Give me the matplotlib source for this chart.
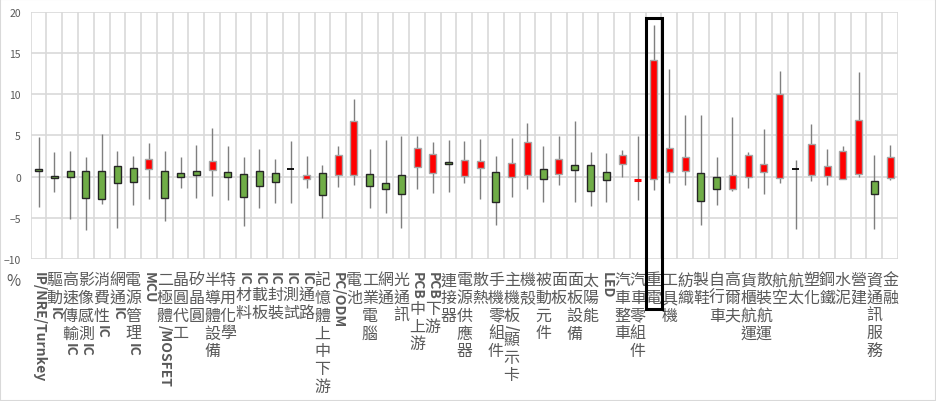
import re
import matplotlib
matplotlib.use('Agg')
import matplotlib.pyplot as plt
from matplotlib.patches import Rectangle
from matplotlib.transforms import blended_transform_factory

plt.rcParams['font.family'] = ['Noto Sans CJK TC', 'DejaVu Sans']

sectors = ['IP/NRE/Turnkey', '驅動IC', '高速傳輸IC', '影像感測IC', '消費性IC', '網通IC',
           '電源管理IC', 'MCU', '二極體/MOSFET', '晶圓代工', '矽晶圓', '半導體設備', '特用化學',
           'IC材料', 'IC載板', 'IC封裝', 'IC測試', 'IC通路', '記憶體上中下游', 'PC/ODM', '電池',
           '工業電腦', '網通', '光通訊', 'PCB中上游', 'PCB下游', '連接器', '電源供應器', '散熱',
           '手機零組件', '主機板/顯示卡', '機殼', '被動元件', '面板', '面板設備', '太陽能', 'LED',
           '汽車整車', '汽車零組件', '重電', '工具機', '紡織', '製鞋', '自行車', '高爾夫',
           '貨櫃航運', '散裝航運', '航空', '航太', '塑化', '鋼鐵', '水泥', '營建', '資通訊服務', '金融']

opens = [0.97, 0.12, 0.65, 0.69, 0.69, 1.29, 1.05, 0.93, 0.65, 0.49, 0.69, 0.85, 0.53,
         0.36, 0.69, 0.49, 0.95, -0.28, 0.44, 0.20, 0.16, 0.32, -0.77, 0.20, 1.21, 0.49,
         1.78, 0.04, 1.05, 0.57, -0.04, 0.16, 0.93, 0.32, 1.42, 1.42, 0.57, 1.54, -0.45,
         -0.24, 0.61, 0.65, 0.40, -0.04, -1.54, -0.08, 0.53, -0.16, 0.93, 0.16, 0.08, -0.24,
         0.32, -0.57, -0.16]
closes = [0.65, -0.20, 0.00, -2.63, -2.71, -0.77, -0.61, 2.14, -2.55, -0.04, 0.20, 1.90, -0.04,
          -2.51, -1.13, -0.61, 0.95, 0.16, -2.22, 2.67, 6.71, -1.13, -1.46, -2.06, 3.48, 2.71,
          1.54, 1.98, 1.86, -3.11, 1.66, 4.17, -0.32, 2.10, 0.77, -1.70, -0.40, 2.63, -0.35,
          14.11, 3.44, 2.35, -2.91, -1.54, 0.20, 2.63, 1.54, 10.07, 0.93, 4.00, 1.25, 3.07,
          6.91, -2.14, 2.35]
highs = [4.81, 2.99, 3.15, 2.43, 5.22, 3.11, 2.50, 4.08, 3.15, 2.35, 3.88, 5.86, 3.76,
         2.43, 3.32, 2.18, 4.37, 2.55, 1.42, 3.76, 9.46, 3.36, 4.49, 4.89, 4.97, 4.21,
         4.49, 4.37, 4.57, 2.50, 4.65, 6.51, 3.68, 4.97, 6.79, 2.99, 2.83, 3.23, 4.97,
         18.36, 13.02, 7.52, 7.52, 2.39, 7.28, 2.99, 5.78, 12.82, 1.98, 6.43, 3.40, 3.76,
         12.74, 2.63, 3.88]
lows = [-3.68, -1.86, -5.14, -6.50, -3.28, -6.19, -3.44, -2.67, -5.38, -1.42, -2.55, -2.30, -2.79,
        -6.03, -3.76, -3.15, -3.15, -1.33, -4.97, -1.29, -1.05, -3.84, -4.45, -6.19, -1.50, -1.98,
        -1.90, -0.81, -2.67, -5.90, -2.51, -1.46, -3.11, -0.97, -3.11, -3.60, -3.07, -0.08, -2.79,
        -1.58, -0.77, -1.05, -5.90, -3.44, -1.74, -1.42, -2.14, -0.77, -6.31, -0.57, -1.01, -0.24,
        -0.08, -6.39, -0.40]

highlight = '重電'

GRAY = '#595959'
GRID = '#d9d9d9'

fig = plt.figure(figsize=(9.36, 4.02), dpi=100)
ax = fig.add_axes([30.7 / 936, 1 - 260 / 402, (898 - 30.7) / 936, (260 - 12.7) / 402])

n = len(sectors)
ax.set_xlim(-0.5, n - 0.5)
ax.set_ylim(-10, 20)
ax.set_yticks(range(-10, 21, 5))
ax.set_xticks([])
for s in ax.spines.values():
    s.set_visible(False)
ax.tick_params(axis='y', length=0, pad=7, labelsize=7.5, labelcolor=GRAY)
for y in range(-10, 21, 5):
    ax.axhline(y, color=GRID, lw=1.2, zorder=0)
for b in range(n + 1):
    ax.axvline(b - 0.5, color=GRID, lw=1.2, zorder=0)

w = 0.44
for i in range(n):
    o, c, h, l = opens[i], closes[i], highs[i], lows[i]
    ax.vlines(i, l, h, color='#7f7f7f', lw=1.0, zorder=2)
    if abs(c - o) < 0.05:
        ax.hlines(o, i - w / 2, i + w / 2, color='black', lw=1.3, zorder=3)
        continue
    if c > o:
        face, edge = '#ff0000', '#a6a6a6'
    else:
        face, edge = '#70ad47', '#262626'
    if abs(c - o) < 0.2:
        # very thin body: draw as a coloured bar
        ax.hlines((o + c) / 2, i - w / 2, i + w / 2, color=face, lw=2.2, zorder=3)
        continue
    ax.add_patch(Rectangle((i - w / 2, min(o, c)), w, abs(c - o), facecolor=face,
                           edgecolor=edge, lw=1.0, zorder=3))

# vertical category labels: CJK stacked, latin runs rotated
fig.canvas.draw()
renderer = fig.canvas.get_renderer()
xt = ax.get_xaxis_transform()
px = 0.72
row_h = 17.7
for i, name in enumerate(sectors):
    cursor = 12.0
    for run in re.findall(r'[A-Za-z0-9/]+|.', name):
        if re.match(r'[A-Za-z0-9/]', run):
            t = ax.annotate(run, xy=(i, 0), xycoords=xt, xytext=(0, -cursor * px),
                            textcoords='offset points', rotation=270, ha='center', va='top',
                            fontsize=10, fontweight='bold', color=GRAY, annotation_clip=False)
            bb = t.get_window_extent(renderer)
            cursor += bb.height + 1
        else:
            ax.annotate(run, xy=(i, 0), xycoords=xt, xytext=(0, -(cursor + row_h / 2) * px),
                        textcoords='offset points', ha='center', va='center',
                        fontsize=11.5, fontweight='light', color=GRAY, annotation_clip=False)
            cursor += row_h

fig.text(13 / 936, 1 - 282 / 402, '%', fontsize=11, color=GRAY, ha='center', va='center')

k = sectors.index(highlight)
bt = blended_transform_factory(ax.transData, fig.transFigure)
fig.add_artist(Rectangle((k - 0.45, 1 - 310 / 402), 1.0, (310 - 19) / 402, transform=bt,
                         fill=False, edgecolor='black', lw=2.2, clip_on=False))

fig.add_artist(Rectangle((0, 0), 1, 1, transform=fig.transFigure, fill=False,
                         edgecolor=GRID, lw=1.5))

fig.savefig('out.png', dpi=100)
